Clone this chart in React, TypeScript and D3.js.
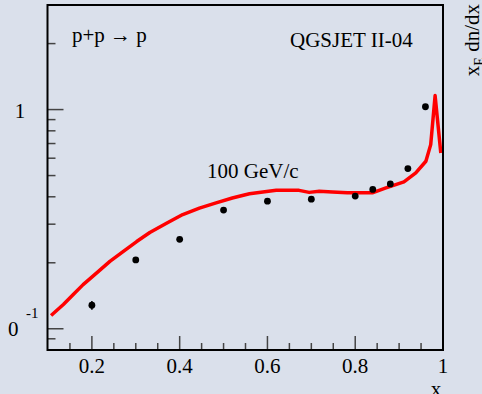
import React from 'react';
import * as d3 from 'd3';

// QGSJET II-04 model curve, p+p -> p at 100 GeV/c
const curveX = [0.107, 0.135, 0.157, 0.18, 0.211, 0.241, 0.271, 0.302, 0.332, 0.37, 0.407, 0.445, 0.483, 0.52, 0.559, 0.62, 0.672, 0.695, 0.718, 0.748, 0.782, 0.839, 0.87, 0.911, 0.938, 0.961, 0.972, 0.982, 0.995];
const curveY = [0.115, 0.129, 0.143, 0.159, 0.18, 0.203, 0.225, 0.25, 0.275, 0.303, 0.332, 0.355, 0.375, 0.395, 0.413, 0.428, 0.428, 0.419, 0.424, 0.421, 0.417, 0.417, 0.439, 0.468, 0.514, 0.581, 0.692, 1.158, 0.634];

// measured points
const dataX = [0.2, 0.3, 0.4, 0.5, 0.6, 0.7, 0.8, 0.84, 0.88, 0.92, 0.96];
const dataY = [0.128, 0.206, 0.256, 0.348, 0.382, 0.39, 0.403, 0.432, 0.458, 0.538, 1.03];
const dataErr = [0.006, 0, 0, 0, 0, 0, 0, 0, 0, 0, 0];

const xMajor = [0.2, 0.4, 0.6, 0.8, 1];
const xMinor = [0.15, 0.25, 0.3, 0.35, 0.45, 0.5, 0.55, 0.65, 0.7, 0.75, 0.85, 0.9, 0.95];
const yMajor = [0.1, 1];
const yMinor = [0.09, 0.2, 0.3, 0.4, 0.5, 0.6, 0.7, 0.8, 0.9, 2, 3];

const W = 482;
const H = 394;
const left = 47.5, right = 443, top = 5, bottom = 350;
const font = '"Liberation Serif", "Times New Roman", serif';

export default function App() {
  const x = d3.scaleLinear().domain([0.1, 1]).range([48, 443]);
  const y = d3.scaleLog().domain([0.08, 3]).range([bottom, top]);

  const line = d3.line<number>()
    .x((d, i) => x(curveX[i]))
    .y((d) => y(d));

  return (
    <svg width={W} height={H} style={{ position: 'absolute', left: 0, top: 0 }} fontFamily={font}>
      <rect x={0} y={0} width={W} height={H} fill="#dae0eb" />

      {/* ticks */}
      {xMajor.map((t) => (
        <line key={'xM' + t} x1={x(t)} x2={x(t)} y1={bottom} y2={bottom - 14} stroke="#444" strokeWidth={1.5} />
      ))}
      {xMinor.map((t) => (
        <line key={'xm' + t} x1={x(t)} x2={x(t)} y1={bottom} y2={bottom - 7} stroke="#444" strokeWidth={1.5} />
      ))}
      {yMajor.map((t) => (
        <line key={'yM' + t} x1={left} x2={left + 16} y1={y(t)} y2={y(t)} stroke="#444" strokeWidth={1.5} />
      ))}
      {yMinor.map((t) => (
        <line key={'ym' + t} x1={left} x2={left + 8} y1={y(t)} y2={y(t)} stroke="#444" strokeWidth={1.5} />
      ))}

      {/* model curve */}
      <path d={line(curveY) || ''} fill="none" stroke="#ff0000" strokeWidth={3.5} strokeLinejoin="round" />

      {/* data */}
      {dataX.map((v, i) => (
        <g key={'p' + i}>
          {dataErr[i] > 0 && (
            <line x1={x(v)} x2={x(v)} y1={y(dataY[i] - dataErr[i])} y2={y(dataY[i] + dataErr[i])} stroke="#000" strokeWidth={1.5} />
          )}
          <circle cx={x(v)} cy={y(dataY[i])} r={3.4} fill="#000" />
        </g>
      ))}

      {/* frame */}
      <path d={`M${left},${top}H${right}V${bottom}H${left}Z`} fill="none" stroke="#000" strokeWidth={2} />

      {/* x tick labels */}
      {xMajor.map((t) => (
        <text key={'xl' + t} x={x(t)} y={373} fontSize={21} textAnchor="middle" fill="#000">{t === 1 ? '1' : t.toFixed(1)}</text>
      ))}
      {/* y tick labels */}
      <text x={20} y={118} fontSize={21} textAnchor="middle" fill="#000">1</text>
      <text x={8} y={336} fontSize={21} fill="#000">0</text>
      <text x={26} y={318} fontSize={15} fill="#000">-1</text>

      {/* axis titles */}
      <text x={436} y={396} fontSize={21} textAnchor="middle" fill="#000">x</text>
      <text transform="translate(479,4) rotate(-90)" fontSize={21} textAnchor="end" fill="#000">
        x<tspan fontSize={14} dy={5}>E</tspan><tspan dy={-5}> dn/dx</tspan>
      </text>

      {/* annotations */}
      <text x={72} y={42} fontSize={21} fill="#000">p+p → p</text>
      <text x={290} y={46.5} fontSize={21} fill="#000">QGSJET II-04</text>
      <text x={207} y={178} fontSize={21} fill="#000">100 GeV/c</text>
    </svg>
  );
}
